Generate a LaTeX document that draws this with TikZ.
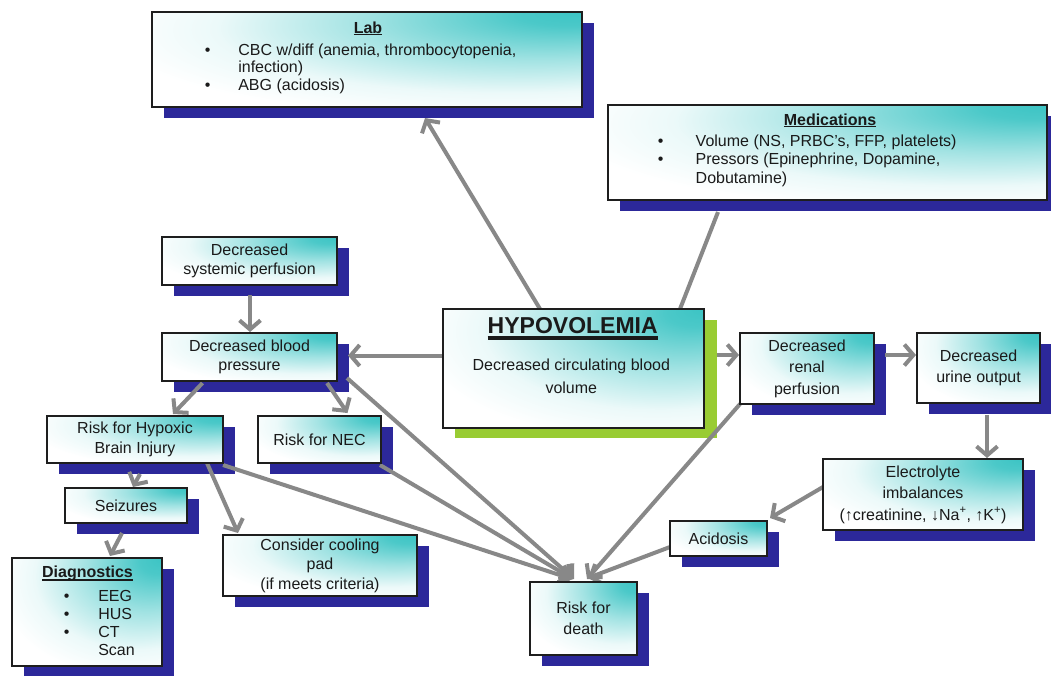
\documentclass[tikz,border=0pt]{standalone}
\usepackage{fontspec}
\setmainfont{Liberation Sans}
\usetikzlibrary{arrows.meta,calc}
\pgfdeclarelayer{bglayer}
\pgfdeclarelayer{shadowlayer}
\pgfdeclarelayer{arrowlayer}
\pgfsetlayers{bglayer,shadowlayer,arrowlayer,main}
\definecolor{boxteal}{RGB}{60,196,196}
\definecolor{shblue}{RGB}{44,40,154}
\definecolor{shgreen}{RGB}{153,204,51}
\definecolor{arrgray}{RGB}{136,136,136}
\definecolor{boxline}{RGB}{30,30,30}
\definecolor{txtcol}{RGB}{26,26,26}
\pgfdeclareradialshading{tealcorner}{\pgfpoint{25bp}{25bp}}{%
  color(0bp)=(boxteal); color(6bp)=(boxteal!92!white); color(20bp)=(boxteal!48!white);
  color(34bp)=(boxteal!10!white); color(44bp)=(white); color(100bp)=(white)}
\newcommand{\ulbox}[3]{\vtop{\hbox{\raisebox{0pt}[\height][0pt]{#3}}\kern#1\hrule height #2}}
\begin{document}
\begin{tikzpicture}[x=1pt,y=-1pt,
  bx/.style={draw=boxline, line width=1.2pt, shade, shading=tealcorner, inner sep=0pt, outer sep=0pt,
    align=center, text=txtcol, font=\fontsize{16}{20.5}\selectfont},
  txt/.style={inner sep=0pt, outer sep=0pt, text=txtcol, font=\fontsize{16}{19}\selectfont},
  arr/.style={draw=arrgray, line width=4pt, -{Straight Barb[length=9pt,width=21pt]}},
  ln/.style={draw=arrgray, line width=4pt}]
\useasboundingbox (0,0) rectangle (1051,675);
\begin{pgfonlayer}{bglayer}
\fill[white] (0,0) rectangle (1051,675);
\end{pgfonlayer}

% boxes
\node[bx,minimum width=430pt,minimum height=95pt] (lab) at (367,59.5) {};
\node[bx,minimum width=439pt,minimum height=95pt] (med) at (827.5,152.5) {};
\node[bx,minimum width=261pt,minimum height=119pt] (hypo) at (573.5,368.5) {};
\node[bx,minimum width=175pt,minimum height=48pt,font=\fontsize{16}{19.5}\selectfont] (dsp) at (249.5,261) {Decreased\\systemic perfusion};
\node[bx,minimum width=175pt,minimum height=48pt,font=\fontsize{16}{19.5}\selectfont] (dbp) at (249.5,357) {Decreased blood\\pressure};
\node[bx,minimum width=176pt,minimum height=47pt,font=\fontsize{16}{20}\selectfont] (rhb) at (135,439.5) {Risk for Hypoxic\\Brain Injury};
\node[bx,minimum width=123pt,minimum height=47pt] (nec) at (319.5,439.5) {Risk for NEC};
\node[bx,minimum width=122pt,minimum height=35pt] (seiz) at (126,505.5) {Seizures};
\node[bx,minimum width=150pt,minimum height=108pt] (diag) at (87,612) {};
\node[bx,minimum width=194pt,minimum height=61pt,font=\fontsize{16}{19.5}\selectfont] (cool) at (320,565.5) {Consider cooling\\pad\\(if meets criteria)};
\node[bx,minimum width=134pt,minimum height=71pt,font=\fontsize{16}{21.5}\selectfont] (renal) at (807,368.5) {Decreased\\renal\\perfusion};
\node[bx,minimum width=123pt,minimum height=70pt,font=\fontsize{16}{21.5}\selectfont] (urine) at (978.5,368) {Decreased\\urine output};
\node[bx,minimum width=200pt,minimum height=71pt,font=\fontsize{16}{21.5}\selectfont] (elec) at (923,494.5) {Electrolyte\\imbalances\\(↑creatinine, ↓Na\textsuperscript{+}, ↑K\textsuperscript{+})};
\node[bx,minimum width=97pt,minimum height=35pt] (acid) at (718.5,538.5) {Acidosis};
\node[bx,minimum width=107pt,minimum height=73pt,font=\fontsize{16}{21}\selectfont] (death) at (583.5,618.5) {Risk for\\death};

% texts inside list boxes
\node[txt,anchor=base] (labh) at (368,33) {\ulbox{0.8pt}{1.5pt}{\bfseries Lab}};
\node[txt,anchor=base] (labb1) at (207.7,55) {\textbullet};
\node[txt,anchor=base] (labb2) at (207.7,90.5) {\textbullet};
\node[txt,anchor=base west] (labt1) at (238.3,55) {CBC w/diff (anemia, thrombocytopenia,};
\node[txt,anchor=base west] (labt2) at (238.3,72.5) {infection)};
\node[txt,anchor=base west] (labt3) at (238.3,90.5) {ABG (acidosis)};

\node[txt,anchor=base] (medh) at (830,125) {\ulbox{0.8pt}{1.5pt}{\bfseries Medications}};
\node[txt,anchor=base] (medb1) at (660.7,146.5) {\textbullet};
\node[txt,anchor=base] (medb2) at (660.7,164.5) {\textbullet};
\node[txt,anchor=base west] (medt1) at (695.7,146.5) {Volume (NS, PRBC's, FFP, platelets)};
\node[txt,anchor=base west] (medt2) at (695.7,164.5) {Pressors (Epinephrine, Dopamine,};
\node[txt,anchor=base west] (medt3) at (695.7,183) {Dobutamine)};

\node[txt,anchor=base] (diagh) at (87.5,577) {\ulbox{2pt}{1.5pt}{\bfseries Diagnostics}};
\node[txt,anchor=base] (diagb1) at (66.7,601.5) {\textbullet};
\node[txt,anchor=base] (diagb2) at (66.7,619) {\textbullet};
\node[txt,anchor=base] (diagb3) at (66.7,637) {\textbullet};
\node[txt,anchor=base west] (diagt1) at (98.3,601.5) {EEG};
\node[txt,anchor=base west] (diagt2) at (98.3,619) {HUS};
\node[txt,anchor=base west] (diagt3) at (98.3,637) {CT};
\node[txt,anchor=base west] (diagt4) at (98.3,655) {Scan};

\node[txt,anchor=base,font=\fontsize{23}{26}\selectfont] (hypoh) at (572.7,333.3) {\ulbox{3pt}{3.3pt}{\bfseries HYPOVOLEMIA}};
\node[txt,anchor=base] (hypot1) at (571.3,370.7) {Decreased circulating blood};
\node[txt,anchor=base] (hypot2) at (571.3,393.3) {volume};

% shadows
\begin{pgfonlayer}{shadowlayer}
\foreach \n in {lab,med,dsp,dbp,rhb,nec,seiz,diag,cool,renal,urine,elec,acid,death}
  \fill[shblue] ($(\n.north west)+(12,11)$) rectangle ($(\n.south east)+(12,11)$);
\fill[shgreen] ($(hypo.north west)+(12,11)$) rectangle ($(hypo.south east)+(13,10)$);
\end{pgfonlayer}

% connectors
\begin{pgfonlayer}{arrowlayer}
\draw[arr] ($(hypo.north west)+(97,0)$) -- ($(lab.south)+(58,11)$);
\draw[ln] ($(hypo.north)+(106.5,0)$) -- ($(med.south)+(-109.5,12)$);
\draw[arr] ($(dsp.south)+(0.5,10)$) -- ($(dbp.north)+(0.5,-1)$);
\draw[arr] ($(hypo.west)+(0,-13)$) -- ($(dbp.east)+(11,-1.5)$);
\draw[arr] ($(hypo.east)+(13,-13.5)$) -- ($(renal.west)+(-1,-13.5)$);
\draw[arr] ($(renal.east)+(11,-13.5)$) -- ($(urine.west)+(-1,-13)$);
\draw[arr] ($(urine.south)+(8.5,12)$) -- ($(elec.north)+(64,-1)$);
\draw[arr] ($(elec.west)+(0,-7.5)$) -- ($(acid.north east)+(3,-3)$);
\draw[arr] ($(acid.west)+(0,8.5)$) -- ($(death.north)+(4.5,-4)$);
\draw[arr] (renal.south west) -- ($(death.north)+(3.5,-3)$);
\draw[arr] ($(dbp.south east)+(10,-3)$) -- ($(death.north)+(-9.5,-3)$);
\draw[arr] ($(nec.south east)+(-1,2)$) -- ($(death.north)+(-10.5,-3)$);
\draw[arr] ($(rhb.south east)+(0,2)$) -- ($(death.north)+(-11.5,-3)$);
\draw[arr] ($(dbp.south)+(-47,2)$) -- ($(rhb.north)+(38,-2)$);
\draw[arr] ($(dbp.south)+(77.5,2)$) -- ($(nec.north)+(28,-3)$);
\draw[arr] ($(rhb.south)+(5,11)$) -- ($(seiz.north)+(7,-1)$);
\draw[arr] ($(rhb.south)+(72,0)$) -- ($(cool.north west)+(15,-2)$);
\draw[arr] ($(seiz.south)+(-4,10)$) -- ($(diag.north)+(23,-2)$);
\end{pgfonlayer}
\end{tikzpicture}
\end{document}
